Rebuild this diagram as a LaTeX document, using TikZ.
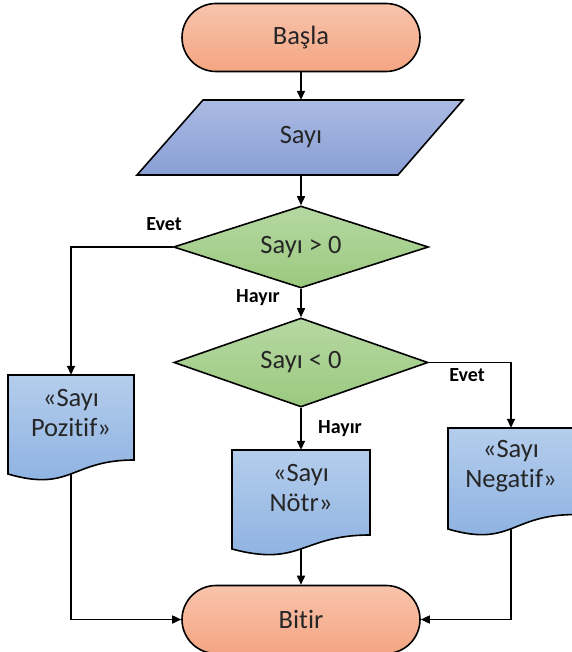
\documentclass[tikz,border=0pt]{standalone}
\usepackage{fontspec}
\setmainfont{Carlito}[Ligatures=NoCommon]
\usetikzlibrary{arrows.meta,shapes.geometric,calc}
\definecolor{termT}{HTML}{F8C4AC}
\definecolor{termB}{HTML}{F4A582}
\definecolor{ioT}{HTML}{AABAE2}
\definecolor{ioB}{HTML}{8A9FD6}
\definecolor{decT}{HTML}{B6D8A2}
\definecolor{decB}{HTML}{9BC97F}
\definecolor{docT}{HTML}{B4CDEC}
\definecolor{docB}{HTML}{8BB0E1}
\begin{document}
\begin{tikzpicture}[x=1pt,y=-1pt,
  every node/.style={font=\fontsize{26.5}{30}\selectfont, text=black!85},
  lw/.style={line width=1.6pt},
  term/.style={lw, draw, rectangle, rounded corners=34pt, minimum width=238pt, minimum height=68pt, top color=termT, bottom color=termB},
  iobox/.style={lw, draw, top color=ioT, bottom color=ioB},
  dec/.style={lw, draw, diamond, aspect=3, inner sep=0pt, top color=decT, bottom color=decB},
  docbox/.style={lw, draw, top color=docT, bottom color=docB},
  doctext/.style={align=center, minimum height=76pt, minimum width=20pt, inner sep=0pt},
  conn/.style={lw, -{Triangle[length=9pt,width=8pt]}},
  lbl/.style={font=\bfseries\fontsize{20}{24}\selectfont, text=black}
]
\useasboundingbox (0,0) rectangle (571,652);

% Start
\node[term] (basla) at (301,37.5) {Başla};

% Input parallelogram
\path[iobox] (203,100) -- (463,100) -- (398,175) -- (137,175) -- cycle;
\node[minimum height=75pt, inner sep=0pt] (sayi) at (301,137.5) {Sayı};

% Decisions
\node[dec, minimum width=255pt, minimum height=82pt] (d1) at (301,247) {Sayı > 0};
\node[dec, minimum width=254pt, minimum height=89pt] (d2) at (301,362.5) {Sayı < 0};

% Documents
\path[docbox] (8,375) -- (134,375) -- (134,460) .. controls (71,460) and (71,492.4) .. (8,474) -- cycle;
\node[doctext] (poz) at (71,413) {«Sayı\\Pozitif»};
\coordinate (pozb) at (71,474);

\path[docbox] (232,450) -- (370,450) -- (370,535) .. controls (301,535) and (301,567.4) .. (232,549) -- cycle;
\node[doctext] (notr) at (301,488) {«Sayı\\Nötr»};
\coordinate (notrb) at (301,549);

\path[docbox] (448,428) -- (574,428) -- (574,514.6) .. controls (511,514.6) and (511,547.6) .. (448,529) -- cycle;
\node[doctext] (neg) at (511,466) {«Sayı\\Negatif»};
\coordinate (negb) at (511,529);

% End
\node[term] (bitir) at (301,619.5) {Bitir};

% Connectors
\draw[conn] (basla.south) -- (sayi.north);
\draw[conn] (sayi.south) -- (d1.north);
\draw[conn] (d1.west) -| (poz.north);
\draw[conn] (d1.south) -- (d2.north);
\draw[conn] (d2.east) -| (neg.north);
\draw[conn] (d2.south) -- (notr.north);
\draw[conn] (pozb) |- (bitir.west);
\draw[conn] (notrb) -- (bitir.north);
\draw[conn] (negb) |- (bitir.east);

% Labels
\node[lbl] (l1) at (164,224) {Evet};
\node[lbl] (l2) at (258,298) {Hayır};
\node[lbl] (l3) at (467,375) {Evet};
\node[lbl] (l4) at (340,429) {Hayır};
\end{tikzpicture}
\end{document}
